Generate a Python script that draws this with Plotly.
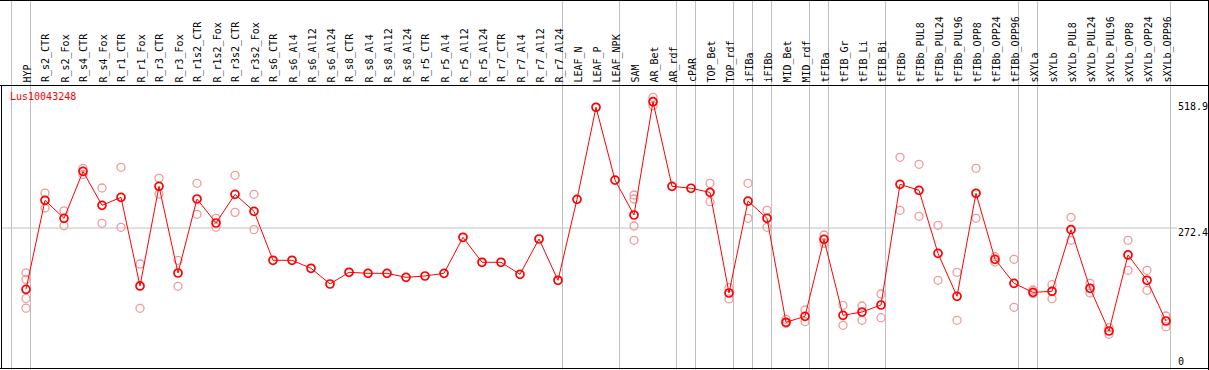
import plotly.graph_objects as go

categories = ["HYP", "R_s2_CTR", "R_s2_Fox", "R_s4_CTR", "R_s4_Fox", "R_r1_CTR", "R_r1_Fox",
              "R_r3_CTR", "R_r3_Fox", "R_r1s2_CTR", "R_r1s2_Fox", "R_r3s2_CTR", "R_r3s2_Fox",
              "R_s6_CTR", "R_s6_Al4", "R_s6_Al12", "R_s6_Al24", "R_s8_CTR", "R_s8_Al4", "R_s8_Al12",
              "R_s8_Al24", "R_r5_CTR", "R_r5_Al4", "R_r5_Al12", "R_r5_Al24", "R_r7_CTR", "R_r7_Al4",
              "R_r7_Al12", "R_r7_Al24", "LEAF_N", "LEAF_P", "LEAF_NPK", "SAM", "AR_Bet", "AR_rdf",
              "cPAR", "TOP_Bet", "TOP_rdf", "iFIBa", "iFIBb", "MID_Bet", "MID_rdf", "tFIBa",
              "tFIB_Gr", "tFIB_Li", "tFIB_Bi", "tFIBb", "tFIBb_PUL8", "tFIBb_PUL24", "tFIBb_PUL96",
              "tFIBb_OPP8", "tFIBb_OPP24", "tFIBb_OPP96", "sXYLa", "sXYLb", "sXYLb_PUL8",
              "sXYLb_PUL24", "sXYLb_PUL96", "sXYLb_OPP8", "sXYLb_OPP24", "sXYLb_OPP96"]

means = [152.8, 326.5, 291.3, 383.0, 316.7, 332.3, 159.3, 353.8, 184.6, 329.0, 282.2, 338.2, 305.0,
         209.4, 209.4, 193.8, 163.2, 186.0, 184.0, 184.0, 176.2, 178.8, 184.0, 254.3, 205.5, 205.5,
         182.0, 251.0, 170.4, 328.4, 508.0, 366.0, 297.8, 518.9, 353.8, 350.0, 342.0, 145.6, 325.0,
         291.4, 88.4, 100.1, 250.3, 102.0, 108.5, 122.2, 357.7, 346.0, 223.0, 139.1, 340.2, 211.3,
         164.5, 146.9, 148.9, 269.2, 154.8, 71.4, 219.8, 170.4, 90.9]

replicates = [[185, 172, 135, 116], [340.7, 311.5], [306, 277], [389, 377], [350.5, 281.6],
              [390.9, 273.8], [202.2, 115.7], [369.4, 338.8], [209.4, 158.7], [359.7, 299.2],
              [291.4, 273.8], [375.3, 303], [338.2, 269.2],
              [], [], [], [], [], [], [], [], [], [], [], [], [], [], [], [], [], [], [],
              [336.8, 329, 276.3, 248.4], [527.5, 511], [], [], [359.7, 323.8], [156, 134],
              [359.7, 291.4], [307, 273.8], [94.2, 86.4], [112.4, 89.6], [258.8, 242.5],
              [121.6, 82.5], [120.2, 92.3], [143.6, 97.4], [410.4, 307], [396.8, 295.3],
              [277.7, 170.4], [186, 92.3], [389, 291.4], [216.5, 206], [211.3, 117.7],
              [151.4, 144.2], [161.8, 134.5], [293.3, 248.4], [164.5, 145.6], [77.9, 65],
              [248.4, 189.9], [189.9, 150.9], [100.7, 79.8]]

group_ends = [-1, 0, 28, 31, 34, 35, 37, 38, 39, 41, 42, 45, 52, 53, 60]
y_ticks = [0, 272.4, 518.9]
title_text = "Lus10043248"

W, H = 1209, 370
x0_px, dx_px = 26.0, 19.0
zero_px, px_per_unit = 367.6, 0.5124

x_lo = -x0_px / dx_px
x_hi = (W - x0_px) / dx_px
y_lo = (zero_px - H) / px_per_unit
y_hi = zero_px / px_per_unit

def py(p):
    return 1 - p / H

def px(p):
    return p / W

idx = list(range(len(categories)))
rx, ry = [], []
for i, reps in enumerate(replicates):
    for v in reps:
        rx.append(i)
        ry.append(v)

fig = go.Figure()
fig.add_trace(go.Scatter(x=rx, y=ry, mode="markers", hoverinfo="skip",
                         marker=dict(symbol="circle-open", size=8, color="#f09a9a",
                                     line=dict(width=1.3))))
fig.add_trace(go.Scatter(x=idx, y=means, mode="lines+markers",
                         line=dict(color="#ff0000", width=1),
                         marker=dict(symbol="circle-open", size=8, color="#ff0000",
                                     line=dict(width=1.7))))

shapes = []
grey = "#c0c0c0"
for g in group_ends:
    xs = g + 4.5 / dx_px
    shapes.append(dict(type="line", xref="x", yref="paper", x0=xs, x1=xs, y0=0, y1=1,
                       line=dict(color=grey, width=1), layer="below"))
shapes.append(dict(type="line", xref="paper", yref="y", x0=px(2), x1=px(1177),
                   y0=y_ticks[1], y1=y_ticks[1], line=dict(color=grey, width=1), layer="below"))
blk = dict(color="black", width=1)
shapes += [
    dict(type="line", xref="paper", yref="paper", x0=0, x1=1, y0=py(0.5), y1=py(0.5), line=blk),
    dict(type="line", xref="paper", yref="paper", x0=0, x1=1, y0=py(85.5), y1=py(85.5), line=blk),
    dict(type="line", xref="paper", yref="paper", x0=0, x1=1, y0=py(368.5), y1=py(368.5), line=blk),
    dict(type="line", xref="paper", yref="paper", x0=px(1.5), x1=px(1.5), y0=py(85.5), y1=py(369), line=blk),
    dict(type="line", xref="paper", yref="paper", x0=px(1208.5), x1=px(1208.5), y0=0, y1=1, line=blk),
]

font = "DejaVu Sans Mono"
label_shift = 1.0 / dx_px
ann = []
for i, c in enumerate(categories):
    ann.append(dict(x=i + label_shift, y=py(83.5), xref="x", yref="paper", text=c, showarrow=False,
                    textangle=-90, xanchor="center", yanchor="bottom",
                    font=dict(family=font, size=10, color="black"), borderpad=0))
ann.append(dict(x=px(9), y=py(96.7), xref="paper", yref="paper", text=title_text,
                showarrow=False, xanchor="left", yanchor="middle",
                font=dict(family=font, size=10, color="#ff0000"), borderpad=0))
tick_px = [361.7, 232.7, 106.7]
for v, tp in zip(y_ticks, tick_px):
    ann.append(dict(x=px(1177), y=py(tp), xref="paper", yref="paper",
                    text=("%g" % v), showarrow=False, xanchor="left", yanchor="middle",
                    font=dict(family=font, size=10, color="black"), borderpad=0))

fig.update_layout(
    width=W, height=H, margin=dict(l=0, r=0, t=0, b=0, pad=0),
    paper_bgcolor="white", plot_bgcolor="white", showlegend=False,
    xaxis=dict(range=[x_lo, x_hi], visible=False, fixedrange=True),
    yaxis=dict(range=[y_lo, y_hi], visible=False, fixedrange=True),
    shapes=shapes, annotations=ann,
)
fig.write_html("out.html", config={"displayModeBar": False},
               post_script="document.body.style.margin='0';document.body.style.padding='0';"
                           "document.documentElement.style.overflow='hidden';")
